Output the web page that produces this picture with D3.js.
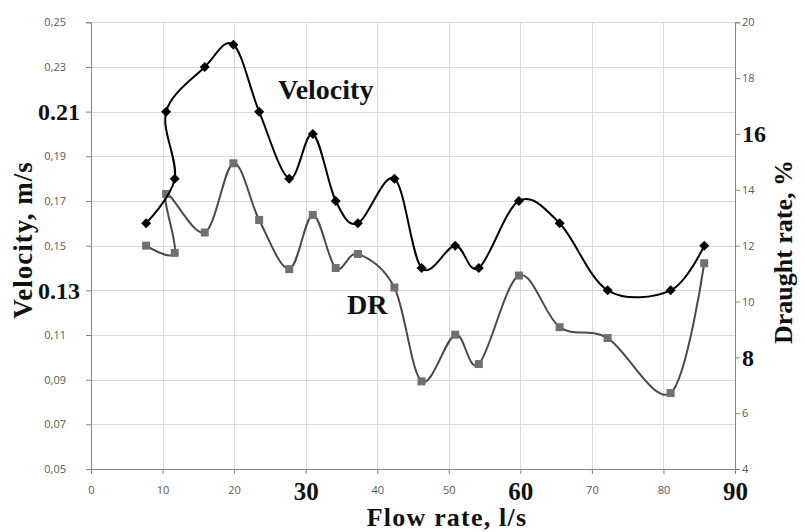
<!DOCTYPE html>
<html>
<head>
<meta charset="utf-8">
<script src="https://cdn.jsdelivr.net/npm/d3@7"></script>
<style>
  body { margin: 0; background: #fff; }
  svg { display: block; }
</style>
</head>
<body>
<svg width="805" height="532"></svg>
<script>
// data in the order the points were plotted (x is not sorted at the start)
const flow = [7.7, 11.7, 10.5, 15.9, 19.9, 23.5, 27.7, 31.0, 34.2, 37.3, 42.4, 46.2, 50.9, 54.2, 59.8, 65.5, 72.2, 81.0, 85.7];
const velocity = [0.16, 0.18, 0.21, 0.23, 0.24, 0.21, 0.18, 0.20, 0.17, 0.16, 0.18, 0.14, 0.15, 0.14, 0.17, 0.16, 0.13, 0.13, 0.15];
const draught = [12.0, 11.74, 13.85, 12.47, 14.95, 12.92, 11.16, 13.1, 11.2, 11.7, 10.5, 7.14, 8.81, 7.76, 10.93, 9.08, 8.69, 6.72, 11.37];

const xTicks = [0, 10, 20, 30, 40, 50, 60, 70, 80, 90];
const xLabels = ['0', '10', '20', '30', '40', '50', '60', '70', '80', '90'];
const xBig = ['30', '60', '90'];

const vTicks = [0.05, 0.07, 0.09, 0.11, 0.13, 0.15, 0.17, 0.19, 0.21, 0.23, 0.25];
const vLabels = ['0,05', '0,07', '0,09', '0,11', '0.13', '0,15', '0,17', '0,19', '0.21', '0,23', '0,25'];
const vBig = ['0.13', '0.21'];

const dTicks = [4, 6, 8, 10, 12, 14, 16, 18, 20];
const dLabels = ['4', '6', '8', '10', '12', '14', '16', '18', '20'];
const dBig = ['8', '16'];

const pLeft = 91, pRight = 735, pTop = 22.3, pBottom = 469;

const x = d3.scaleLinear().domain([0, 90]).range([pLeft, pRight]);
const yV = d3.scaleLinear().domain([0.05, 0.25]).range([pBottom, pTop]);
const yD = d3.scaleLinear().domain([4, 20]).range([pBottom, pTop]);

const svg = d3.select('svg');
const smallFont = "'Open Sans', sans-serif";
const serif = "'Liberation Serif', 'Times New Roman', serif";

// grid
const grid = svg.append('g').attr('stroke', '#d9d9d9').attr('stroke-width', 1);
grid.selectAll('line.h').data(vTicks.slice(1)).enter().append('line')
  .attr('x1', pLeft).attr('x2', pRight)
  .attr('y1', d => Math.round(yV(d)) + 0.5).attr('y2', d => Math.round(yV(d)) + 0.5);
grid.selectAll('line.v').data(xTicks.slice(1, -1)).enter().append('line')
  .attr('y1', pTop).attr('y2', pBottom)
  .attr('x1', d => Math.round(x(d)) + 0.5).attr('x2', d => Math.round(x(d)) + 0.5);

function styleAxis(g, bigList, bigSize, bigWeight) {
  g.select('.domain').attr('stroke', '#868686');
  g.selectAll('.tick line').attr('stroke', '#868686');
  g.selectAll('.tick text')
    .attr('fill', '#595959')
    .style('font-family', smallFont)
    .style('font-size', '11px');
  g.selectAll('.tick text').filter(function () { return bigList.includes(this.textContent); })
    .attr('fill', '#111')
    .style('font-family', serif)
    .style('font-size', bigSize)
    .style('font-weight', bigWeight);
}

const gx = svg.append('g').attr('transform', `translate(0,${pBottom})`)
  .call(d3.axisBottom(x).tickValues(xTicks).tickFormat((d, i) => xLabels[i]).tickSizeOuter(0).tickSize(5).tickPadding(12));
styleAxis(gx, xBig, '25px', 'bold');
gx.selectAll('.tick text').filter(function () { return xBig.includes(this.textContent); }).attr('dy', 0).attr('y', 31);

const gl = svg.append('g').attr('transform', `translate(${pLeft},0)`)
  .call(d3.axisLeft(yV).tickValues(vTicks).tickFormat((d, i) => vLabels[i]).tickSizeOuter(0).tickSize(5).tickPadding(20));
styleAxis(gl, vBig, '24px', 'bold');
gl.selectAll('.tick text').filter(function () { return vBig.includes(this.textContent); }).attr('x', -11);

const gr = svg.append('g').attr('transform', `translate(${pRight},0)`)
  .call(d3.axisRight(yD).tickValues(dTicks).tickFormat((d, i) => dLabels[i]).tickSizeOuter(0).tickSize(5).tickPadding(2));
styleAxis(gr, dBig, '24px', 'bold');

// series
const idx = d3.range(flow.length);
const curve = d3.curveCardinal.tension(0);

const lineD = d3.line().x(i => x(flow[i])).y(i => yD(draught[i])).curve(curve);
const lineV = d3.line().x(i => x(flow[i])).y(i => yV(velocity[i])).curve(curve);

svg.append('path').attr('d', lineD(idx)).attr('fill', 'none').attr('stroke', '#4a4a4a').attr('stroke-width', 2);
svg.selectAll('rect.dr').data(idx).enter().append('rect')
  .attr('x', i => x(flow[i]) - 4).attr('y', i => yD(draught[i]) - 4)
  .attr('width', 8).attr('height', 8).attr('fill', '#707070');

svg.append('path').attr('d', lineV(idx)).attr('fill', 'none').attr('stroke', '#000').attr('stroke-width', 2);
svg.selectAll('path.vel').data(idx).enter().append('path')
  .attr('d', d3.symbol(d3.symbolSquare, 50)())
  .attr('transform', i => `translate(${x(flow[i])},${yV(velocity[i])}) rotate(45)`)
  .attr('fill', '#000');

// series labels
svg.append('text').attr('x', 278).attr('y', 99).text('Velocity')
  .style('font-family', serif).style('font-size', '28px').style('font-weight', 'bold').attr('fill', '#111');
svg.append('text').attr('x', 347).attr('y', 314).text('DR')
  .style('font-family', serif).style('font-size', '28px').style('font-weight', 'bold').attr('fill', '#111');

// axis titles
svg.append('text').attr('transform', 'translate(32,240) rotate(-90)').attr('text-anchor', 'middle').text('Velocity, m/s')
  .style('font-family', serif).style('font-size', '27px').style('font-weight', 'bold').style('letter-spacing', '1px').attr('fill', '#111');
svg.append('text').attr('transform', 'translate(792,252) rotate(-90)').attr('text-anchor', 'middle').text('Draught rate, %')
  .style('font-family', serif).style('font-size', '26px').style('font-weight', 'bold').attr('fill', '#111');
svg.append('text').attr('x', 447).attr('y', 526).attr('text-anchor', 'middle').text('Flow rate, l/s')
  .style('font-family', serif).style('font-size', '26px').style('font-weight', 'bold').style('letter-spacing', '1.2px').attr('fill', '#111');
</script>
</body>
</html>
